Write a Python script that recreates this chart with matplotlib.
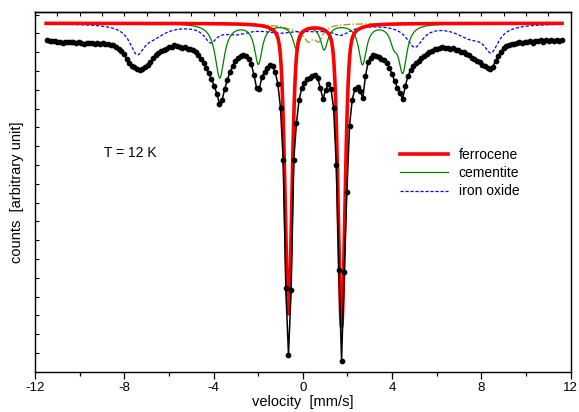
import numpy as np
import matplotlib
matplotlib.use("Agg")
import matplotlib.pyplot as plt
from matplotlib.ticker import MultipleLocator

plt.rcParams["font.family"] = ["Liberation Sans", "DejaVu Sans"]
plt.rcParams["axes.unicode_minus"] = False

# Measured spectrum: channel velocities (mm/s) and counts (arbitrary units)
velocity = np.linspace(-11.469, 11.617, 195)
counts = np.array([
    3318, 3313, 3308, 3313, 3303, 3301, 3293, 3303, 3298, 3303,
    3301, 3288, 3298, 3293, 3283, 3293, 3285, 3293, 3283, 3290,
    3283, 3288, 3278, 3283, 3273, 3268, 3253, 3233, 3208, 3178,
    3133, 3093, 3063, 3048, 3028, 3023, 3033, 3048, 3073, 3103,
    3138, 3168, 3193, 3208, 3223, 3233, 3248, 3253, 3268, 3258,
    3253, 3243, 3248, 3233, 3233, 3218, 3198, 3168, 3133, 3088,
    3038, 2988, 2928, 2858, 2783, 2678, 2718, 2828, 2923, 2998,
    3063, 3108, 3143, 3163, 3168, 3158, 3133, 3078, 2968, 2838,
    2828, 2948, 3003, 3038, 3068, 3058, 2998, 2878, 2638, 2118,
    838, 168, 818, 2118, 2488, 2718, 2838, 2893, 2928, 2943,
    2963, 2968, 2938, 2838, 2728, 2818, 2878, 2828, 2638, 2068,
    1018, 108, 998, 1798, 2458, 2718, 2828, 2848, 2808, 2738,
    2958, 3098, 3143, 3168, 3163, 3153, 3133, 3118, 3088, 3038,
    2978, 2908, 2843, 2788, 2728, 2858, 2958, 3018, 3058, 3088,
    3113, 3138, 3158, 3183, 3198, 3213, 3228, 3233, 3243, 3248,
    3238, 3243, 3233, 3238, 3223, 3218, 3203, 3198, 3178, 3168,
    3143, 3128, 3108, 3098, 3073, 3063, 3043, 3028, 3053, 3108,
    3158, 3198, 3238, 3263, 3268, 3283, 3278, 3288, 3298, 3288,
    3303, 3298, 3308, 3293, 3313, 3308, 3318, 3303, 3318, 3313,
    3323, 3308, 3318, 3313, 3318,
])

# Sub-spectra, all drawn from a common off-resonance level
component_baseline = 3485

# Ferrocene doublet
ferrocene_pos = [-0.64, 1.74]
ferrocene_depth = [2900, 3030]
ferrocene_fwhm = 0.36
ferrocene_lorentz_fraction = 0.35

# Cementite sextet (line 6 carries a shoulder)
cementite_pos = [-3.72, -1.99, -0.28, 0.96, 2.68, 4.08, 4.48]
cementite_depth = [540, 395, 240, 250, 400, 150, 465]
cementite_fwhm = [0.50, 0.42, 0.40, 0.40, 0.42, 0.40, 0.45]

# Iron oxide: broadened sextet with field-distribution tails
oxide_pos = [-7.43, -6.70, -4.13, -3.00, -1.00, 0.50, 1.70, 5.02, 7.50, 8.45]
oxide_depth = [260, 100, 150, 80, 70, 40, 90, 220, 120, 240]
oxide_fwhm = [0.80, 1.40, 0.70, 1.60, 2.00, 1.50, 1.00, 0.90, 1.60, 0.80]

# Central paramagnetic doublet
doublet_pos = [0.25, 0.72, -0.30]
doublet_depth = [130, 140, 50]
doublet_fwhm = [0.50, 0.45, 1.60]


def lorentzians(v, pos, depth, fwhm):
    total = np.zeros_like(v)
    for c, d, w in zip(pos, depth, fwhm):
        total += d / (1.0 + (2.0 * (v - c) / w) ** 2)
    return total


def pseudo_voigt(v, pos, depth, fwhm, eta):
    total = np.zeros_like(v)
    for c, d in zip(pos, depth):
        x = 2.0 * (v - c) / fwhm
        lor = 1.0 / (1.0 + x ** 2)
        gau = np.exp(-np.log(2.0) * x ** 2)
        total += d * (eta * lor + (1.0 - eta) * gau)
    return total


v = np.linspace(-11.5, 11.62, 2000)
ferrocene = component_baseline - pseudo_voigt(v, ferrocene_pos, ferrocene_depth,
                                              ferrocene_fwhm, ferrocene_lorentz_fraction)
cementite = component_baseline - lorentzians(v, cementite_pos, cementite_depth, cementite_fwhm)
oxide = component_baseline - lorentzians(v, oxide_pos, oxide_depth, oxide_fwhm)
doublet = component_baseline - lorentzians(v, doublet_pos, doublet_depth, doublet_fwhm)

fig = plt.figure(figsize=(5.79, 4.12), dpi=100)
ax = fig.add_axes([35 / 579, 1 - 371.8 / 412, 535.5 / 579, 359.8 / 412])

ax.plot(v, doublet, color="#a0a020", lw=1.0, ls=(0, (5, 1.5, 1, 1.5)), zorder=2)
ax.plot(v, oxide, color="#0000ff", lw=0.9, ls=(0, (2.5, 1.5)), label="iron oxide", zorder=3)
ax.plot(v, cementite, color="#008000", lw=0.9, label="cementite", zorder=3)
ax.plot(v, ferrocene, color="#ff0000", lw=2.6, label="ferrocene", zorder=4)
ax.plot(velocity, counts, color="black", lw=1.1, marker="o", ms=3.1,
        mec="black", mfc="black", zorder=5)

ax.set_xlim(-12, 12)
ax.set_ylim(0, 3598)
ax.xaxis.set_major_locator(MultipleLocator(4))
ax.xaxis.set_minor_locator(MultipleLocator(2))
ax.tick_params(axis="x", which="major", direction="out", length=5, width=0.9,
               labelsize=9.5, pad=2, top=False)
ax.tick_params(axis="x", which="minor", direction="out", length=3, width=0.9, top=False)

# Inward top ticks every 1 mm/s
top = ax.secondary_xaxis("top")
top.xaxis.set_major_locator(MultipleLocator(1))
top.tick_params(direction="in", length=3, width=0.8, labeltop=False)
top.spines["top"].set_linewidth(1.0)

ax.yaxis.set_major_locator(MultipleLocator(188))
ax.tick_params(axis="y", direction="in", length=3, width=0.8, labelleft=False, right=False)

for s in ax.spines.values():
    s.set_linewidth(1.0)

ax.set_xlabel("velocity  [mm/s]", fontsize=10.5, labelpad=1)
ax.set_ylabel("counts  [arbitrary unit]", fontsize=10.5, labelpad=8)

ax.text(-8.9, 2188, "T = 12 K", fontsize=10, va="center", ha="left")

handles, labels = ax.get_legend_handles_labels()
order = [labels.index("ferrocene"), labels.index("cementite"), labels.index("iron oxide")]
ax.legend([handles[i] for i in order], [labels[i] for i in order],
          loc="upper left", bbox_to_anchor=(0.672, 0.637), frameon=False,
          fontsize=10, handlelength=3.4, handletextpad=0.8, labelspacing=0.3,
          borderaxespad=0)

fig.savefig("out.png", dpi=100)
